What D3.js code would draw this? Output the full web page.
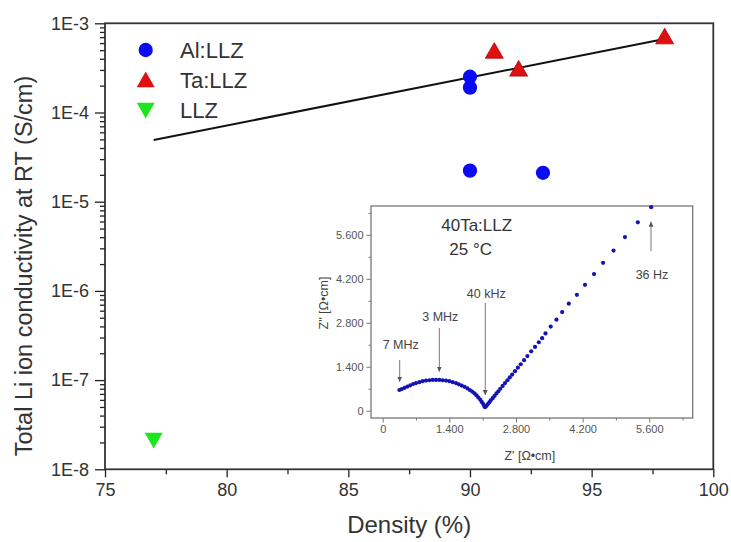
<!DOCTYPE html>
<html><head><meta charset="utf-8">
<script src="https://cdn.jsdelivr.net/npm/d3@7"></script>
<style>
body{margin:0;background:#fff}
svg{display:block}
text{font-family:"Liberation Sans",Arial,Helvetica,sans-serif}
</style>
</head><body>
<svg id="c" width="731" height="542"></svg>
<script>
// ---------------- main chart data ----------------
const alDensity = [90, 90, 90, 93];
const alCond    = [2.52e-4, 1.90e-4, 2.23e-5, 2.11e-5];
const taDensity = [91, 92, 98];
const taCond    = [4.89e-4, 3.08e-4, 7.08e-4];
const llzDensity = [77];
const llzCond    = [2.13e-8];
const fitDensity = [77, 98.2];
const fitCond    = [4.92e-5, 6.84e-4];
const xTickValues = [75, 80, 85, 90, 95, 100];
const xTickLabels = ["75", "80", "85", "90", "95", "100"];
const yTickValues = [1e-8, 1e-7, 1e-6, 1e-5, 1e-4, 1e-3];
const yTickLabels = ["1E-8", "1E-7", "1E-6", "1E-5", "1E-4", "1E-3"];
const legendLabels = ["Al:LLZ", "Ta:LLZ", "LLZ"];
const xTitle = "Density (%)";
const yTitle = "Total Li ion conductivity at RT (S/cm)";

// ---------------- inset (impedance) data, Ω·cm ----------------
const zRe = [350,400,460,520,580,640,700,770,840,910,980,1050,1120,1190,1260,1330,1400,1470,1540,1600,1660,1720,1780,1830,1880,1930,1970,2010,2050,2080,2110,2130,2150,
  2180,2210,2240,2270,2310,2350,2390,2430,2470,2520,2570,2620,2670,2720,2780,2840,2900,2970,3040,3120,3200,3280,3350,3420,3530,3650,3770,3910,4080,4250,4440,4630,4850,5090,5360,5640];
const zIm = [660,690,730,770,810,850,880,910,940,960,970,980,980,980,970,960,940,910,880,840,800,760,710,660,610,550,490,420,350,280,220,160,110,
  150,210,270,330,400,470,550,620,700,790,880,970,1060,1150,1260,1370,1480,1610,1740,1890,2030,2180,2310,2460,2680,2900,3140,3410,3690,4010,4350,4710,5100,5530,6000,6480];
const insetTickValues = [0, 1400, 2800, 4200, 5600];
const insetTickLabels = ["0", "1.400", "2.800", "4.200", "5.600"];
const insetXTitle = "Z' [Ω•cm]";
const insetYTitle = "Z\" [Ω•cm]";
const insetTitle = ["40Ta:LLZ", "25 °C"];
const insetTitleRe = [1975, 1849];
const insetTitleIm = [5914, 5140];
const annLabels = ["7 MHz", "3 MHz", "40 kHz", "36 Hz"];
const annRe     = [357, 1189, 2155, 5637];
const annFromIm = [1615, 2634, 3430, 5086];
const annToIm   = [924, 1242, 500, 6019];
const annTextIm = [2124, 3016, 3739, 4322];

// ---------------- drawing ----------------
const svg = d3.select("#c");
svg.append("rect").attr("width", 731).attr("height", 542).attr("fill", "#fff");

const M = {l: 105, r: 713.3, t: 23.3, b: 469.3};
const x = d3.scaleLinear().domain([75, 100]).range([M.l, M.r]);
const y = d3.scaleLog().domain([1e-8, 1e-3]).range([M.b, M.t]);
const txtCol = "#333";

function styleAxis(g, col) {
  g.select(".domain").remove();
  g.selectAll(".tick line").attr("stroke", col).attr("stroke-width", 1.3);
}

// minor y ticks
const yMinor = y.ticks().filter(v => !yTickValues.some(t => Math.abs(t - v) / v < 1e-6));
svg.append("g").attr("transform", `translate(${M.l},0)`)
  .call(d3.axisLeft(y).tickValues(yMinor).tickSize(5).tickFormat(""))
  .call(g => styleAxis(g, "#222"));
// major y ticks
svg.append("g").attr("transform", `translate(${M.l},0)`)
  .call(d3.axisLeft(y).tickValues(yTickValues).tickSize(10).tickPadding(6)
        .tickFormat((d, i) => yTickLabels[i]))
  .call(g => {
    styleAxis(g, "#222");
    g.selectAll("text").attr("font-size", 18).attr("fill", txtCol)
      .attr("font-family", "'Liberation Sans',Arial,sans-serif");
  });

// minor x ticks
svg.append("g").attr("transform", `translate(0,${M.b})`)
  .call(d3.axisBottom(x).tickValues(d3.range(77.5, 100, 5)).tickSize(5).tickFormat(""))
  .call(g => styleAxis(g, "#222"));
svg.append("g").attr("transform", `translate(0,${M.b})`)
  .call(d3.axisBottom(x).tickValues(xTickValues).tickSize(8).tickPadding(6)
        .tickFormat((d, i) => xTickLabels[i]))
  .call(g => {
    styleAxis(g, "#222");
    g.selectAll("text").attr("font-size", 18).attr("fill", txtCol)
      .attr("font-family", "'Liberation Sans',Arial,sans-serif");
  });

// frame
svg.append("rect").attr("x", M.l).attr("y", M.t)
  .attr("width", M.r - M.l).attr("height", M.b - M.t)
  .attr("fill", "none").attr("stroke", "#333").attr("stroke-width", 1.8);

// axis titles
svg.append("text").attr("x", (M.l + M.r) / 2).attr("y", 533)
  .attr("text-anchor", "middle").attr("font-size", 24).attr("fill", txtCol).text(xTitle);
svg.append("text").attr("transform", "translate(32,266) rotate(-90)")
  .attr("text-anchor", "middle").attr("font-size", 23.5).attr("fill", txtCol).text(yTitle);

// ---------------- inset ----------------
const I = {l: 371, r: 692.7, t: 206, b: 418};
const xi = d3.scaleLinear().domain([-246, 6513]).range([I.l, I.r]);
const yi = d3.scaleLinear().domain([-232, 6519]).range([I.b, I.t]);
const insetCol = "#777";
const insetMinor = [700, 2100, 3500, 4900, 6300];

svg.append("rect").attr("x", I.l).attr("y", I.t).attr("width", I.r - I.l).attr("height", I.b - I.t)
  .attr("fill", "#fff").attr("stroke", insetCol).attr("stroke-width", 1.3);

function insetAxis(axisGen, tr, vals, size, fmt) {
  svg.append("g").attr("transform", tr)
    .call(axisGen.tickValues(vals).tickSize(size).tickPadding(3).tickFormat(fmt))
    .call(g => {
      g.select(".domain").remove();
      g.selectAll(".tick line").attr("stroke", insetCol).attr("stroke-width", 1);
      g.selectAll("text").attr("font-size", 11).attr("fill", "#555")
        .attr("font-family", "'Liberation Sans',Arial,sans-serif");
    });
}
insetAxis(d3.axisBottom(xi), `translate(0,${I.b})`, insetMinor, 2.5, () => "");
insetAxis(d3.axisBottom(xi), `translate(0,${I.b})`, insetTickValues, 4.5, (d, i) => insetTickLabels[i]);
insetAxis(d3.axisLeft(yi), `translate(${I.l},0)`, insetMinor, 2.5, () => "");
insetAxis(d3.axisLeft(yi), `translate(${I.l},0)`, insetTickValues, 4.5, (d, i) => insetTickLabels[i]);

svg.append("text").attr("x", (I.l + I.r) / 2 - 2).attr("y", 459.5)
  .attr("text-anchor", "middle").attr("font-size", 12.5).attr("fill", "#444").text(insetXTitle);
svg.append("text").attr("transform", "translate(328,303) rotate(-90)")
  .attr("text-anchor", "middle").attr("font-size", 12.5).attr("fill", "#444").text(insetYTitle);

// inset points
svg.append("g").selectAll("circle").data(zRe).join("circle")
  .attr("cx", d => xi(d)).attr("cy", (d, i) => yi(zIm[i])).attr("r", 2.1)
  .attr("fill", "#1414b4");

// inset title
insetTitle.forEach((t, i) => {
  svg.append("text").attr("x", xi(insetTitleRe[i])).attr("y", yi(insetTitleIm[i]))
    .attr("dy", "0.36em").attr("text-anchor", "middle").attr("font-size", 17)
    .attr("fill", "#333").text(t);
});

// annotation arrows
const defs = svg.append("defs");
defs.append("marker").attr("id", "ah").attr("viewBox", "0 0 6 6")
  .attr("refX", 6).attr("refY", 3).attr("markerWidth", 5).attr("markerHeight", 5)
  .attr("markerUnits", "userSpaceOnUse").attr("orient", "auto")
  .append("path").attr("d", "M0,0L6,3L0,6Z").attr("fill", "#555");
annLabels.forEach((t, i) => {
  svg.append("line")
    .attr("x1", xi(annRe[i])).attr("x2", xi(annRe[i]))
    .attr("y1", yi(annFromIm[i])).attr("y2", yi(annToIm[i]))
    .attr("stroke", "#777").attr("stroke-width", 1).attr("marker-end", "url(#ah)");
  svg.append("text").attr("x", xi(annRe[i]) + 1).attr("y", yi(annTextIm[i]))
    .attr("dy", "0.36em").attr("text-anchor", "middle").attr("font-size", 12.5)
    .attr("fill", "#444").text(t);
});

// ---------------- main data marks ----------------
const line = d3.line().x(d => x(d[0])).y(d => y(d[1]));
svg.append("path").datum(fitDensity.map((d, i) => [d, fitCond[i]]))
  .attr("d", line).attr("fill", "none").attr("stroke", "#111").attr("stroke-width", 2);

const circleSym = d3.symbol().type(d3.symbolCircle).size(160);
const triSym = d3.symbol().type(d3.symbolTriangle).size(140);

svg.append("g").selectAll("path").data(alDensity).join("path")
  .attr("d", circleSym)
  .attr("transform", (d, i) => `translate(${x(d)},${y(alCond[i])})`)
  .attr("fill", "#0a0af5");
svg.append("g").selectAll("path").data(taDensity).join("path")
  .attr("d", triSym)
  .attr("transform", (d, i) => `translate(${x(d)},${y(taCond[i]) + 2})`)
  .attr("fill", "#e01010").attr("stroke", "#b00000").attr("stroke-width", 0.8);
svg.append("g").selectAll("path").data(llzDensity).join("path")
  .attr("d", triSym)
  .attr("transform", (d, i) => `translate(${x(d)},${y(llzCond[i]) - 2}) rotate(180)`)
  .attr("fill", "#1ee61e");

// legend
const legY = [50, 80, 110];
const legSyms = [
  {d: circleSym, fill: "#0a0af5", rot: 0, dy: 0},
  {d: triSym, fill: "#e01010", rot: 0, dy: 2},
  {d: triSym, fill: "#1ee61e", rot: 180, dy: -2}
];
legendLabels.forEach((t, i) => {
  svg.append("path").attr("d", legSyms[i].d())
    .attr("transform", `translate(145.7,${legY[i] + legSyms[i].dy}) rotate(${legSyms[i].rot})`)
    .attr("fill", legSyms[i].fill);
  svg.append("text").attr("x", 180).attr("y", legY[i]).attr("dy", "0.36em")
    .attr("font-size", 22).attr("fill", txtCol).text(t);
});
</script>
</body></html>
